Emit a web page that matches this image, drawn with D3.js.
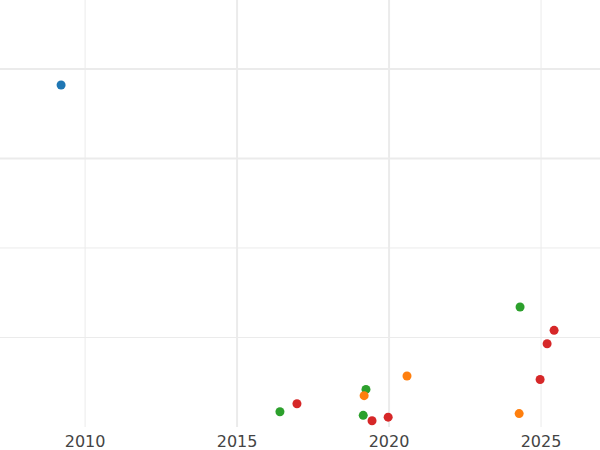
<!DOCTYPE html>
<html>
<head>
<meta charset="utf-8">
<script src="https://cdn.jsdelivr.net/npm/d3@7"></script>
<style>
  body { margin: 0; background: #fff; }
  svg { font-family: "DejaVu Sans", sans-serif; }
</style>
</head>
<body>
<svg id="chart" width="600" height="450"></svg>
<script>
// data
const years  = [2009.21, 2024.31, 2025.43, 2025.2, 2020.59, 2024.97, 2019.24, 2019.18, 2016.97, 2016.41, 2019.15, 2024.28, 2019.97, 2019.44];
const values = [3.82, 1.34, 1.08, 0.93, 0.57, 0.53, 0.42, 0.35, 0.26, 0.17, 0.13, 0.15, 0.11, 0.07];
const groups = ['blue', 'green', 'red', 'red', 'orange', 'red', 'green', 'orange', 'red', 'green', 'green', 'orange', 'red', 'red'];
const xTicks = [2010, 2015, 2020, 2025];
const yTicks = [1, 2, 3, 4];

const colors = { blue: '#1f77b4', orange: '#ff7f0e', green: '#2ca02c', red: '#d62728' };

const svg = d3.select('#chart');
const x = d3.scaleLinear().domain([2007.2, 2026.94]).range([0, 600]);
const y = d3.scaleLinear().domain([0, 4.77]).range([427, 0]);

// grid
svg.append('g').selectAll('line').data(xTicks).join('line')
  .attr('x1', d => x(d)).attr('x2', d => x(d))
  .attr('y1', 0).attr('y2', 427)
  .attr('stroke', '#ebebeb')
  .attr('stroke-width', d => (d === 2015 || d === 2020) ? 2 : 1);

svg.append('g').selectAll('line').data(yTicks).join('line')
  .attr('x1', 0).attr('x2', 600)
  .attr('y1', d => y(d)).attr('y2', d => y(d))
  .attr('stroke', '#ebebeb')
  .attr('stroke-width', d => d >= 3 ? 2 : 1);

// x labels
svg.append('g').selectAll('text').data(xTicks).join('text')
  .attr('x', d => x(d)).attr('y', 447)
  .attr('text-anchor', 'middle')
  .attr('font-size', 16)
  .attr('fill', '#444')
  .text(d => d);

// points
svg.append('g').selectAll('circle').data(years).join('circle')
  .attr('cx', d => x(d))
  .attr('cy', (d, i) => y(values[i]))
  .attr('r', 4.5)
  .attr('fill', (d, i) => colors[groups[i]]);
</script>
</body>
</html>
